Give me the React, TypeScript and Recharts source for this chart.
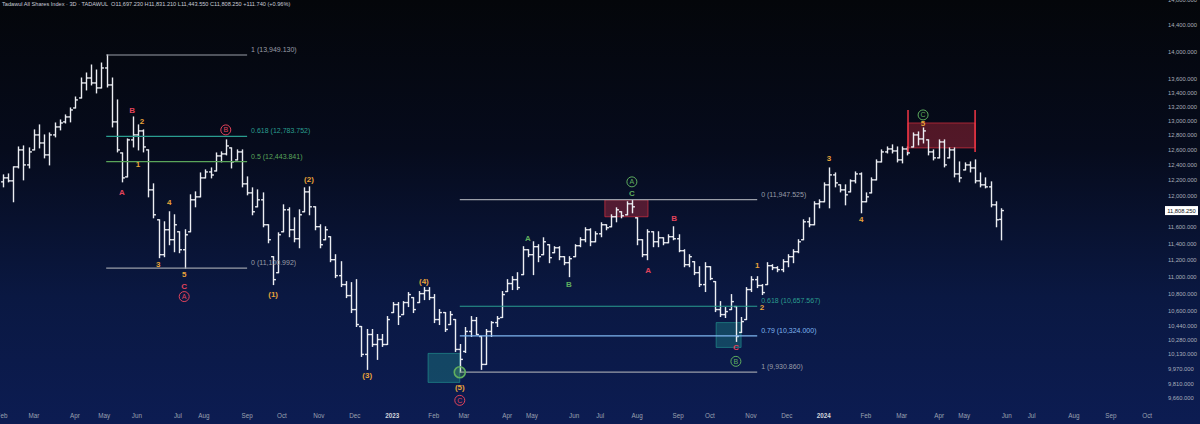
import {
  Bar,
  ComposedChart,
  ReferenceArea,
  ReferenceDot,
  ReferenceLine,
  XAxis,
  YAxis,
} from "recharts";

// 3D bars of the Tadawul All Shares Index: open, high, low, close (bar 1 = first visible bar)
const OHLC: number[][] = [
  [12177, 12268, 12112, 12229], [12229, 12281, 12177, 12190], [12190, 12374, 11920, 12374],
  [12374, 12641, 12360, 12601], [12601, 12655, 12203, 12400], [12400, 12628, 12360, 12574],
  [12601, 12874, 12601, 12805], [12805, 12943, 12628, 12695], [12695, 12805, 12494, 12534],
  [12534, 12832, 12400, 12805], [12805, 12970, 12778, 12915], [12915, 13012, 12874, 12970],
  [12985, 13082, 12970, 13054], [13054, 13180, 12985, 13152], [13180, 13336, 13180, 13294],
  [13322, 13610, 13322, 13538], [13538, 13683, 13437, 13610], [13610, 13801, 13509, 13538],
  [13538, 13727, 13394, 13466], [13466, 13830, 13466, 13757], [13757, 13949.13, 13480, 13509],
  [13509, 13610, 12915, 12985], [12985, 13294, 12574, 12601], [12560, 12560, 12177, 12229],
  [12242, 12750, 12242, 12737], [12737, 13054, 12641, 12805], [12805, 12943, 12601, 12860],
  [12860, 12874, 12574, 12641], [12601, 12601, 11983, 12073], [12073, 12151, 11717, 11755],
  [11692, 11692, 11227, 11263], [11263, 11667, 11239, 11568], [11568, 11793, 11384, 11445],
  [11445, 11755, 11299, 11630], [11543, 11543, 11287, 11323], [11323, 11568, 11100.99, 11506],
  [11543, 12009, 11543, 11945], [11945, 12047, 11856, 11983], [11983, 12294, 11983, 12229],
  [12229, 12334, 12229, 12307], [12307, 12360, 12229, 12267], [12320, 12560, 12320, 12520],
  [12520, 12574, 12440, 12547], [12547, 12737, 12534, 12655], [12628, 12628, 12360, 12440],
  [12467, 12601, 12467, 12574], [12574, 12601, 12112, 12151], [12151, 12242, 12009, 12034],
  [12034, 12099, 11755, 11793], [11856, 12073, 11856, 11945], [11945, 12034, 11605, 11630],
  [11630, 11630, 11408, 11445], [11239, 11239, 10908, 10966], [11048, 11530, 11048, 11506],
  [11543, 11881, 11543, 11818], [11818, 11843, 11482, 11568], [11568, 11717, 11420, 11457],
  [11457, 11818, 11347, 11755], [11793, 12099, 11793, 12047], [12047, 12112, 11755, 11856],
  [11856, 11856, 11568, 11606], [11606, 11630, 11347, 11384], [11445, 11605, 11445, 11568],
  [11482, 11482, 11179, 11203], [11203, 11263, 10990, 11013], [11013, 11179, 10885, 10908],
  [10908, 10943, 10757, 10780], [10780, 10931, 10586, 10620], [10620, 10966, 10429, 10451],
  [10429, 10429, 10100, 10122], [10122, 10396, 9961, 10340], [10340, 10396, 10209, 10230],
  [10230, 10340, 10068, 10285], [10285, 10340, 10209, 10230], [10230, 10541, 10230, 10507],
  [10586, 10700, 10586, 10677], [10677, 10700, 10451, 10541], [10563, 10711, 10563, 10700],
  [10700, 10815, 10654, 10792], [10757, 10757, 10586, 10620], [10700, 10827, 10700, 10803],
  [10803, 10873, 10734, 10838], [10838, 10873, 10734, 10757], [10757, 10792, 10473, 10507],
  [10507, 10620, 10451, 10586], [10586, 10586, 10374, 10396], [10451, 10597, 10451, 10563],
  [10507, 10507, 10154, 10176], [10176, 10230, 9930.86, 10068], [10154, 10418, 10143, 10374],
  [10374, 10541, 10318, 10496], [10496, 10530, 10340, 10340], [10318, 10318, 9961, 10014],
  [10014, 10396, 10014, 10374], [10374, 10484, 10318, 10473], [10473, 10541, 10429, 10518],
  [10530, 10827, 10530, 10792], [10827, 10966, 10827, 10920], [10920, 11001, 10850, 10966],
  [10966, 11048, 10850, 10873], [11025, 11360, 11025, 11323], [11323, 11323, 11239, 11263],
  [11263, 11420, 11025, 11360], [11360, 11384, 11179, 11239], [11263, 11469, 11263, 11420],
  [11384, 11384, 11167, 11227], [11287, 11360, 11287, 11347], [11347, 11360, 11203, 11239],
  [11239, 11239, 11143, 11167], [11167, 11239, 11001, 11215], [11239, 11384, 11239, 11372],
  [11372, 11469, 11360, 11445], [11445, 11593, 11420, 11568], [11568, 11580, 11372, 11420],
  [11420, 11543, 11420, 11518], [11518, 11655, 11482, 11630], [11630, 11630, 11568, 11593],
  [11605, 11755, 11605, 11730], [11730, 11843, 11667, 11818], [11793, 11793, 11717, 11742],
  [11755, 11920, 11755, 11894], [11894, 11947.52, 11780, 11856], [11717, 11717, 11384, 11445],
  [11445, 11445, 11239, 11263], [11263, 11568, 11203, 11543], [11543, 11543, 11360, 11420],
  [11420, 11543, 11360, 11469], [11469, 11469, 11384, 11408], [11408, 11506, 11408, 11482],
  [11482, 11605, 11445, 11457], [11457, 11506, 11299, 11311], [11311, 11323, 11119, 11143],
  [11143, 11263, 11119, 11239], [11179, 11179, 11025, 11048], [11048, 11119, 10885, 10908],
  [10908, 11167, 10827, 11119], [11119, 11119, 10966, 10978], [10943, 10943, 10597, 10620],
  [10620, 10711, 10541, 10563], [10563, 10643, 10530, 10597], [10620, 10792, 10620, 10711],
  [10654, 10654, 10264, 10318], [10363, 10530, 10363, 10484], [10507, 10873, 10507, 10850],
  [10850, 11001, 10827, 10966], [10966, 11001, 10873, 10897], [10897, 10908, 10792, 10815],
  [10908, 11167, 10908, 11131], [11131, 11143, 11084, 11107], [11107, 11119, 11060, 11084],
  [11084, 11203, 11060, 11179], [11179, 11263, 11119, 11239], [11239, 11323, 11167, 11299],
  [11299, 11445, 11287, 11420], [11445, 11692, 11445, 11667], [11667, 11717, 11605, 11630],
  [11630, 11920, 11630, 11894], [11894, 11945, 11843, 11920], [11920, 12164, 11920, 12138],
  [12138, 12360, 11843, 12268], [12268, 12294, 12112, 12164], [12138, 12138, 12047, 12073],
  [12073, 12138, 11881, 12009], [12047, 12203, 12047, 12190], [12190, 12307, 12164, 12281],
  [12281, 12294, 11780, 11920], [11920, 12034, 11920, 11983], [12034, 12229, 12034, 12203],
  [12203, 12467, 12203, 12440], [12440, 12601, 12440, 12574], [12574, 12641, 12560, 12614],
  [12614, 12669, 12560, 12587], [12587, 12641, 12440, 12467], [12467, 12641, 12427, 12614],
  [12614, 12641, 12534, 12560], [12641, 12832, 12641, 12805], [12805, 12846, 12669, 12750],
  [12750, 12901, 12695, 12860], [12737, 12737, 12534, 12574], [12574, 12601, 12467, 12494],
  [12494, 12737, 12494, 12709], [12709, 12737, 12374, 12400], [12494, 12628, 12494, 12601],
  [12601, 12628, 12242, 12281], [12281, 12440, 12177, 12229], [12334, 12427, 12334, 12400],
  [12400, 12440, 12307, 12360], [12360, 12467, 12164, 12190], [12190, 12294, 12112, 12138],
  [12138, 12229, 12099, 12112], [12112, 12177, 11856, 11881], [11881, 11920, 11605, 11692],
  [11697.23, 11831.21, 11443.55, 11808.25],
];

// time axis: bar position of each month label
const MONTH_TICKS = [
  0.96, 7.1, 15.0, 20.6, 26.9, 34.8, 39.8, 48.1, 54.8, 61.9, 68.8, 76.0, 84.0, 89.8, 98.1,
  102.9, 111.0, 116.0, 123.1, 131.0, 137.1, 145.0, 151.9, 159.0, 167.1, 174.0, 181.2, 186.0,
  194.2, 199.0, 207.1, 214.2, 221.2,
];
const MONTH_LABELS = [
  "Feb", "Mar", "Apr", "May", "Jun", "Jul", "Aug", "Sep", "Oct", "Nov", "Dec", "2023", "Feb",
  "Mar", "Apr", "May", "Jun", "Jul", "Aug", "Sep", "Oct", "Nov", "Dec", "2024", "Feb", "Mar",
  "Apr", "May", "Jun", "Jul", "Aug", "Sep", "Oct",
];
const PRICE_TICKS = [
  14800, 14400, 14000, 13600, 13400, 13200, 13000, 12800, 12600, 12400, 12200, 12000, 11600,
  11400, 11200, 11000, 10800, 10600, 10440, 10280, 10130, 9970, 9810, 9660,
];
const LAST_PRICE = 11808.25;

// fibonacci retracements: [level, price, colour]
const FIB_2022 = { from: 21.0, to: 48.1 };
const FIB_2022_LEVELS: [string, number, string][] = [
  ["1", 13949.13, "#9a9ea8"],
  ["0.618", 12783.752, "#2a9d8f"],
  ["0.5", 12443.841, "#5aa55a"],
  ["0", 11100.992, "#9a9ea8"],
];
const FIB_2023 = { from: 89.0, to: 146.2 };
const FIB_2023_LEVELS: [string, number, string][] = [
  ["0", 11947.525, "#9a9ea8"],
  ["0.618", 10657.567, "#2a9d8f"],
  ["0.79", 10324.0, "#7fb6f0"],
  ["1", 9930.86, "#9a9ea8"],
];

// boxes: x1, x2 (bar), y1, y2 (price), kind
const BOXES: [number, number, number, number, string][] = [
  [82.9, 89.0, 10133, 9823, "green"],
  [138.3, 143.1, 10473, 10198, "green"],
  [116.9, 125.2, 11945, 11730, "red"],
  [175.2, 188.1, 12970, 12628, "red"],
];
const MARKERS = [175.2, 188.1];
const MARKER_RANGE = [13152, 12574];

// wave labels: bar, price, text, colour, circled
const WAVES: [number, number, string, string, boolean][] = [
  [24.0, 12047, "A", "red", false],
  [26.0, 13152, "B", "red", false],
  [27.9, 12998, "2", "orange", false],
  [27.1, 12413, "1", "orange", false],
  [33.1, 11920, "4", "orange", false],
  [31.0, 11155, "3", "orange", false],
  [36.0, 11036, "5", "orange", false],
  [36.0, 10897, "C", "red", false],
  [36.0, 10769, "A", "red", true],
  [44.0, 12874, "B", "red", true],
  [53.1, 10803, "(1)", "orange", false],
  [60.0, 12216, "(2)", "orange", false],
  [71.2, 9897, "(3)", "orange", false],
  [82.1, 10955, "(4)", "orange", false],
  [89.0, 9770, "(5)", "orange", false],
  [89.0, 9636, "C", "red", true],
  [89.0, 9930.86, "", "green", true],
  [102.1, 11469, "A", "green", false],
  [110.0, 10920, "B", "green", false],
  [122.1, 12177, "A", "green", true],
  [122.1, 12034, "C", "green", false],
  [125.2, 11084, "A", "red", false],
  [130.2, 11717, "B", "red", false],
  [142.1, 10198, "C", "red", false],
  [142.1, 10047, "B", "green", true],
  [146.2, 11143, "1", "orange", false],
  [147.1, 10654, "2", "orange", false],
  [160.0, 12494, "3", "orange", false],
  [166.2, 11705, "4", "orange", false],
  [178.1, 12970, "5", "orange", false],
  [178.1, 13082, "C", "green", true],
];

const COLORS: Record<string, string> = { red: "#e2435b", orange: "#e8a33a", green: "#5fae5f" };
const FONT = "'Liberation Sans', Arial, sans-serif";

const rows = OHLC.map((b, k) => ({
  i: k + 1,
  open: b[0],
  high: b[1],
  low: b[2],
  close: b[3],
  range: [b[2], b[1]],
}));

const fmt = (v: number) =>
  v.toLocaleString("en-US", { minimumFractionDigits: 3, maximumFractionDigits: 3 });

function OhlcBar(props: any) {
  const { x, y, width, height, payload } = props;
  if (x == null || y == null) return null;
  const cx = Math.round(x + width / 2) + 0.5;
  const top = Math.log(payload.high);
  const span = top - Math.log(payload.low);
  const at = (v: number) => (span > 0 ? y + (height * (top - Math.log(v))) / span : y);
  return (
    <g stroke="#eceef3" strokeWidth={1.4}>
      <line x1={cx} x2={cx} y1={y - 0.5} y2={y + height + 0.5} />
      <line x1={cx - 2.4} x2={cx} y1={at(payload.open)} y2={at(payload.open)} />
      <line x1={cx} x2={cx + 2.4} y1={at(payload.close)} y2={at(payload.close)} />
    </g>
  );
}

function TimeTick(props: any) {
  const { x, payload } = props;
  const label = MONTH_LABELS[MONTH_TICKS.indexOf(payload.value)] ?? "";
  const year = label.length === 4;
  return (
    <text
      x={x}
      y={418}
      textAnchor="middle"
      fontSize={6.3}
      fontFamily={FONT}
      fontWeight={year ? 700 : 400}
      fill={year ? "#d1d4dc" : "#9ba1b0"}
    >
      {label}
    </text>
  );
}

function PriceTick(props: any) {
  const { y, payload } = props;
  return (
    <text x={1168} y={y + 2.1} fontSize={5.8} fontFamily={FONT} fill="#a9aebb">
      {fmt(payload.value)}
    </text>
  );
}

function LastPriceLabel(props: any) {
  const vb = props.viewBox;
  if (!vb) return null;
  return (
    <g>
      <rect x={1165} y={vb.y - 4.5} width={33} height={9} fill="#ffffff" />
      <text x={1181.5} y={vb.y + 2.1} textAnchor="middle" fontSize={5.8} fontFamily={FONT} fill="#131722">
        {fmt(LAST_PRICE)}
      </text>
    </g>
  );
}

function FibLabel(props: any) {
  const vb = props.viewBox;
  if (!vb) return null;
  return (
    <text x={vb.x + vb.width + 4} y={vb.y - 3} fontSize={7} fontFamily={FONT} fill={props.color}>
      {props.value}
    </text>
  );
}

function waveShape(text: string, color: string, circled: boolean) {
  return (p: any) => {
    const c = COLORS[color];
    if (circled) {
      return (
        <g>
          <circle
            cx={p.cx}
            cy={p.cy}
            r={text ? 5 : 5.5}
            fill={text ? "none" : "rgba(95,174,95,0.25)"}
            stroke={c}
            strokeWidth={text ? 1 : 1.6}
          />
          <text x={p.cx} y={p.cy + 2.5} textAnchor="middle" fontSize={7} fontFamily={FONT} fill={c}>
            {text}
          </text>
        </g>
      );
    }
    return (
      <text
        x={p.cx}
        y={p.cy + 3}
        textAnchor="middle"
        fontSize={8}
        fontWeight={700}
        fontFamily={FONT}
        fill={c}
      >
        {text}
      </text>
    );
  };
}

function fibLines(range: { from: number; to: number }, levels: [string, number, string][]) {
  return levels.map(([level, price, color]) => (
    <ReferenceLine
      key={`${range.from}-${level}`}
      segment={[
        { x: range.from, y: price },
        { x: range.to, y: price },
      ]}
      stroke={color}
      strokeWidth={1.2}
      label={<FibLabel value={`${level} (${fmt(price)})`} color={color} />}
    />
  ));
}

export default function App() {
  return (
    <div
      style={{
        position: "absolute",
        left: 0,
        top: 0,
        width: 1200,
        height: 424,
        background: "linear-gradient(180deg, #04060a 0%, #060b1c 35%, #0a1842 70%, #0c1c52 100%)",
        overflow: "hidden",
      }}
    >
      <div
        style={{
          position: "absolute",
          left: 2,
          top: 1,
          fontSize: 5.6,
          fontFamily: FONT,
          color: "#c9ccd6",
          whiteSpace: "pre",
          zIndex: 2,
        }}
      >
        {"Tadawul All Shares Index · 3D · TADAWUL  O11,697.230 H11,831.210 L11,443.550 C11,808.250 +111.740 (+0.96%)"}
      </div>
      <ComposedChart width={1200} height={424} data={rows} margin={{ top: 0, right: 0, bottom: 0, left: 0 }}>
        <XAxis
          type="number"
          dataKey="i"
          domain={[0.577, 222.7]}
          allowDataOverflow
          ticks={MONTH_TICKS}
          interval={0}
          axisLine={false}
          tickLine={false}
          height={19}
          tick={<TimeTick />}
        />
        <YAxis
          orientation="right"
          scale="log"
          domain={[9588, 14796]}
          allowDataOverflow
          ticks={PRICE_TICKS}
          interval={0}
          axisLine={false}
          tickLine={false}
          width={45}
          tick={<PriceTick />}
        />
        {BOXES.map(([x1, x2, y1, y2, kind]) => (
          <ReferenceArea
            key={`${x1}`}
            x1={x1}
            x2={x2}
            y1={y1}
            y2={y2}
            fill={kind === "green" ? "rgba(38,166,154,0.32)" : "rgba(242,54,69,0.32)"}
            fillOpacity={1}
            stroke={kind === "green" ? "rgba(38,166,154,0.55)" : "rgba(242,54,69,0.6)"}
          />
        ))}
        {MARKERS.map((m) => (
          <ReferenceLine
            key={`m${m}`}
            segment={[
              { x: m, y: MARKER_RANGE[0] },
              { x: m, y: MARKER_RANGE[1] },
            ]}
            stroke="#f23645"
            strokeWidth={1.5}
          />
        ))}
        {fibLines(FIB_2022, FIB_2022_LEVELS)}
        {fibLines(FIB_2023, FIB_2023_LEVELS)}
        <Bar dataKey="range" barSize={4} shape={<OhlcBar />} isAnimationActive={false} />
        {WAVES.map(([i, price, text, color, circled], k) => (
          <ReferenceDot key={k} x={i} y={price} r={0} shape={waveShape(text, color, circled)} />
        ))}
        <ReferenceLine y={LAST_PRICE} stroke="none" label={<LastPriceLabel />} />
      </ComposedChart>
    </div>
  );
}
